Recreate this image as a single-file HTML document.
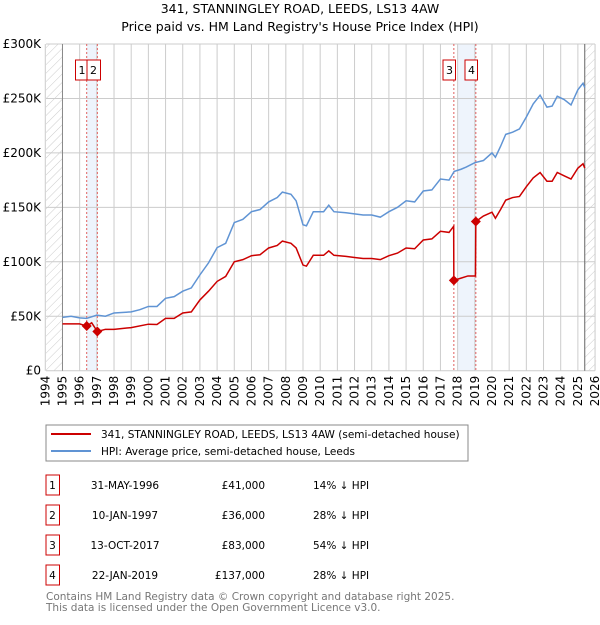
<!DOCTYPE html>
<html><head><meta charset="utf-8"><style>
body{margin:0;background:#fff;font-family:"Liberation Sans","DejaVu Sans",sans-serif;}
svg text{font-family:"DejaVu Sans","Liberation Sans",sans-serif;}
</style></head><body>
<svg id="c" width="600" height="620" xmlns="http://www.w3.org/2000/svg">
<defs><pattern id="hatch" width="6" height="6" patternUnits="userSpaceOnUse" patternTransform="rotate(45)"><line x1="0" y1="0" x2="0" y2="6" stroke="#ccc" stroke-width="1"/></pattern></defs>
<text x="300" y="13" text-anchor="middle" font-size="12.5">341, STANNINGLEY ROAD, LEEDS, LS13 4AW</text>
<text x="300" y="31" text-anchor="middle" font-size="12.5">Price paid vs. HM Land Registry's House Price Index (HPI)</text>
<g id="plot"></g>
<rect x="46" y="425" width="422" height="36" fill="#fff" stroke="#888"/>
<line x1="51" y1="434" x2="91" y2="434" stroke="#cc0000" stroke-width="2"/>
<text x="101" y="438" font-size="10.5">341, STANNINGLEY ROAD, LEEDS, LS13 4AW (semi-detached house)</text>
<line x1="51" y1="451" x2="91" y2="451" stroke="#6094d4" stroke-width="2"/>
<text x="101" y="455" font-size="10.5">HPI: Average price, semi-detached house, Leeds</text>
<g id="table" font-size="10.5"></g>
<text x="46" y="600" font-size="10.5" fill="#777">Contains HM Land Registry data © Crown copyright and database right 2025.</text>
<text x="46" y="611" font-size="10.5" fill="#777">This data is licensed under the Open Government Licence v3.0.</text>
</svg>
<script>
const hpiYears=[1995,1995.5,1996,1996.4,1997,1997.5,1998,1999,1999.5,2000,2000.5,2001,2001.5,2002,2002.5,2003,2003.5,2004,2004.5,2005,2005.5,2006,2006.5,2007,2007.5,2007.8,2008.3,2008.6,2009,2009.2,2009.6,2010.2,2010.5,2010.8,2011.5,2012,2012.5,2013,2013.5,2014,2014.5,2015,2015.5,2016,2016.5,2017,2017.5,2017.8,2018.2,2018.5,2019,2019.5,2020,2020.2,2020.5,2020.8,2021.2,2021.6,2022,2022.4,2022.8,2023.2,2023.5,2023.8,2024.2,2024.6,2025,2025.3,2025.4];
const hpiValues=[49,50,48.5,48,51,50,53,54,56,59,59,66.5,68,73,76,88,99,113,117,136,139,146,148,155,159,164,162,156,134,133,146,146,152,146,145,144,143,143,141,146,150,156,155,165,166,176,175,183,185,187,191,193,200,196,206,217,219,222,233,245,253,242,243,252,249,244,258,264,260];
const priceYears=[1995,1996,1996.41,1996.7,1997.03,1997.5,1998,1999,2000,2000.5,2001,2001.5,2002,2002.5,2003,2003.5,2004,2004.5,2005,2005.5,2006,2006.5,2007,2007.5,2007.8,2008.3,2008.6,2009,2009.2,2009.6,2010.2,2010.5,2010.8,2011.5,2012,2012.5,2013,2013.5,2014,2014.5,2015,2015.5,2016,2016.5,2017,2017.5,2017.77,2017.78,2018.2,2018.6,2019.04,2019.06,2019.5,2020,2020.2,2020.5,2020.8,2021.2,2021.6,2022,2022.4,2022.8,2023.2,2023.5,2023.8,2024.2,2024.6,2025,2025.3,2025.4];
const priceValues=[43,43,41,44,36,38,38,39.6,42.7,42.4,48,48,53,54,65,73,82,86.6,100,102,105.6,106.5,112.7,115,119,117,112.7,97,96,106,106,110,106,105,104,103,103,102,105.6,108,112.7,112,120,121,128,127,132.6,83,85,87,87,137,142,145.5,140,148,156.6,159,160,169,177,182,174,174,182,179,176,186,190,186];
const saleLabels=["1","2","3","4"];
const saleYears=[1996.41,1997.03,2017.78,2019.06];
const salePrices=[41,36,83,137];
const saleDates=["31-MAY-1996","10-JAN-1997","13-OCT-2017","22-JAN-2019"];
const salePriceText=["£41,000","£36,000","£83,000","£137,000"];
const saleDiff=["14% ↓ HPI","28% ↓ HPI","54% ↓ HPI","28% ↓ HPI"];
const yTicks=[0,50,100,150,200,250,300];
const yTickLabels=["£0","£50K","£100K","£150K","£200K","£250K","£300K"];
const xTicks=[1994,1995,1996,1997,1998,1999,2000,2001,2002,2003,2004,2005,2006,2007,2008,2009,2010,2011,2012,2013,2014,2015,2016,2017,2018,2019,2020,2021,2022,2023,2024,2025,2026];

const NS="http://www.w3.org/2000/svg";
const L=46,R=595,T=44,B=370.7;
const x=y=>45.3+(y-1994)*17.18;
const yS=v=>B-v*(B-T)/300;
const g=document.getElementById('plot');
function mk(tag,attrs,parent){const e=document.createElementNS(NS,tag);for(const k in attrs)e.setAttribute(k,attrs[k]);(parent||g).appendChild(e);return e;}
let e=mk('rect',{x:L,y:T,width:x(1995)-L,height:B-T,fill:'url(#hatch)'});


e=mk('rect',{x:x(2025.4),y:T,width:R-x(2025.4),height:B-T,fill:'url(#hatch)'});


e=mk('rect',{x:x(saleYears[0]),y:T,width:x(saleYears[1])-x(saleYears[0]),height:B-T,fill:'#eef4fc'});


e=mk('rect',{x:x(2018),y:T,width:x(saleYears[3])-x(2018),height:B-T,fill:'#eef4fc'});


xTicks.forEach((t,i)=>{
 const l=mk('line',{x1:x(t),x2:x(t),y1:T,y2:B,stroke:'#ccc','stroke-width':1});
 
 
 const tx=mk('text',{x:0,y:0,'font-size':12,'text-anchor':'end',transform:`translate(${x(t)+4},${B+5}) rotate(-90)`});
 tx.textContent=t;
 
 
});
yTicks.forEach((t,i)=>{
 const l=mk('line',{x1:L,x2:R,y1:yS(t),y2:yS(t),stroke:'#ccc','stroke-width':1});
 
 
 const tx=mk('text',{x:41,y:yS(t)+4,'font-size':12,'text-anchor':'end'});
 tx.textContent=yTickLabels[i];
 
 
});
e=mk('line',{x1:x(1995),x2:x(1995),y1:T,y2:B,stroke:'#888','stroke-width':1});


e=mk('line',{x1:x(2025.4),x2:x(2025.4),y1:T,y2:B,stroke:'#666','stroke-width':1});


saleYears.forEach((s,i)=>{
 const l=mk('line',{x1:x(s),x2:x(s),y1:T,y2:B,stroke:'#e06060','stroke-width':1,'stroke-dasharray':'2,2'});
 
 
});
e=mk('polyline',{points:hpiYears.map((y,i)=>x(y)+','+yS(hpiValues[i])).join(' '),fill:'none',stroke:'#6094d4','stroke-width':1.5});


e=mk('polyline',{points:priceYears.map((y,i)=>x(y)+','+yS(priceValues[i])).join(' '),fill:'none',stroke:'#cc0000','stroke-width':1.5});


saleYears.forEach((s,i)=>{
 const cx=x(s),cy=yS(salePrices[i]);
 const p=mk('polygon',{points:`${cx},${cy-5} ${cx+5},${cy} ${cx},${cy+5} ${cx-5},${cy}`,fill:'#cc0000'});
 
 
});
const boxX=[75.5,87,443,465];
saleLabels.forEach((s,i)=>{
 const r=mk('rect',{x:boxX[i],y:60,width:i==1?13.5:12.5,height:20,fill:'#fff',stroke:'#cc0000'});
 
 
 const t=mk('text',{x:boxX[i]+6.5,y:74,'font-size':11,'text-anchor':'middle'});
 t.textContent=s;
 
 
});
const tb=document.getElementById('table');
saleLabels.forEach((s,i)=>{
 const top=475+i*30;
 const r=mk('rect',{x:46,y:top,width:13.5,height:20,fill:'#fff',stroke:'#cc0000'},tb);
 
 
 const ty=top+14;
 const t1=mk('text',{x:52.5,y:ty,'text-anchor':'middle'},tb);t1.textContent=s;
 
 
 const t2=mk('text',{x:125,y:ty,'text-anchor':'middle'},tb);t2.textContent=saleDates[i];
 
 
 const t3=mk('text',{x:265,y:ty,'text-anchor':'end'},tb);t3.textContent=salePriceText[i];
 
 
 const t4=mk('text',{x:313,y:ty},tb);t4.textContent=saleDiff[i];
 
 
});
</script>
</body></html>
